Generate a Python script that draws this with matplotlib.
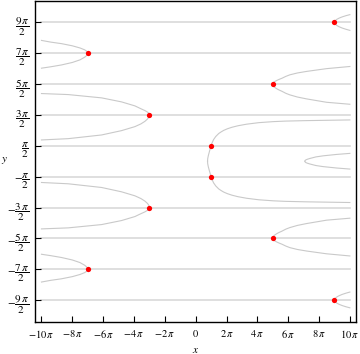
import numpy as np
import matplotlib
matplotlib.use("Agg")
import matplotlib.pyplot as plt

plt.rcParams['mathtext.fontset'] = 'stix'
plt.rcParams['font.family'] = 'STIXGeneral'

# all values in units of pi
line_levels = [-4.5, -3.5, -2.5, -1.5, -0.5, 0.5, 1.5, 2.5, 3.5, 4.5]

# red points (upper half, mirrored below)
pts_x = [-7, -3, 1, 5, 9]
pts_y = [3.5, 1.5, 0.5, 2.5, 4.5]

# branches of the upper half: (x list, y-upper list, y-lower list)
c1_x = [9.0, 9.02, 9.06, 9.15, 9.3, 9.5, 9.75, 10.0]
c1_up = [4.5, 4.535, 4.562, 4.597, 4.637, 4.677, 4.717, 4.75]
c1_lo = [4.5, 4.463, 4.436, 4.40, 4.358, 4.316, 4.275, 4.24]

c2_x = [-7.0, -7.02, -7.07, -7.2, -7.5, -8.0, -8.7, -9.4, -10.0]
c2_up = [3.5, 3.535, 3.565, 3.61, 3.67, 3.74, 3.81, 3.86, 3.915]
c2_lo = [3.5, 3.46, 3.425, 3.37, 3.285, 3.20, 3.12, 3.06, 3.015]

c3_x = [5.0, 5.01, 5.05, 5.12, 5.25, 5.4, 5.6, 5.85, 6.11, 6.6, 7.19, 8.49, 10.0]
c3_up = [2.5, 2.525, 2.552, 2.58, 2.615, 2.65, 2.69, 2.75, 2.80, 2.86, 2.91, 3.0, 3.07]
c3_lo = [2.5, 2.47, 2.433, 2.395, 2.35, 2.31, 2.265, 2.20, 2.15, 2.08, 2.02, 1.91, 1.846]

c4_x = [-3.0, -3.01, -3.05, -3.12, -3.29, -3.55, -3.94, -4.81, -6.1, -8.27, -10.0]
c4_up = [1.5, 1.527, 1.56, 1.59, 1.641, 1.70, 1.793, 1.923, 2.053, 2.16, 2.193]
c4_lo = [1.5, 1.464, 1.42, 1.37, 1.293, 1.21, 1.121, 0.991, 0.851, 0.731, 0.689]

# curve through (pi, pi/2) and (pi, -pi/2), top half from y=0 to right end
c5_x = [0.77, 0.78, 0.82, 0.9, 1.0, 1.07, 1.16, 1.3, 1.5, 1.65, 1.82, 2.05,
        2.35, 2.75, 3.3, 4.1, 5.03, 5.8, 7.19, 10.0]
c5_y = [0.0, 0.08, 0.18, 0.33, 0.5, 0.6, 0.7, 0.8, 0.9, 0.95, 1.0, 1.05,
        1.1, 1.15, 1.2, 1.25, 1.283, 1.3, 1.316, 1.338]

# small loop near y = 0
loop_x = [7.08, 7.1, 7.15, 7.25, 7.41, 7.8, 8.27, 9.14, 10.0]
loop_y = [0.0, 0.025, 0.045, 0.065, 0.09, 0.14, 0.175, 0.22, 0.254]

fig = plt.figure(figsize=(3.6, 3.54), dpi=100)
ax = fig.add_axes([0.0972, 0.0904, 0.8918, 0.9066])

line_col = '#d9d9d9'
curve_col = '#c9c9c9'

for lv in line_levels:
    ax.plot([-10, 10], [lv, lv], color=line_col, lw=1.2, zorder=1)

def branch(xs, ys):
    xs = np.asarray(xs)
    ys = np.asarray(ys)
    ax.plot(xs, ys, color=curve_col, lw=0.8, zorder=2)
    ax.plot(xs, -ys, color=curve_col, lw=0.8, zorder=2)

for cx, up, lo in [(c1_x, c1_up, c1_lo), (c2_x, c2_up, c2_lo),
                   (c3_x, c3_up, c3_lo), (c4_x, c4_up, c4_lo)]:
    branch(cx, up)
    branch(cx, lo)
branch(c5_x, c5_y)
branch(loop_x, loop_y)

px = np.array(pts_x + pts_x)
py = np.array(pts_y + [-v for v in pts_y])
ax.plot(px, py, 'o', color='#ff0000', ms=3.8, mec='none', zorder=3)

ax.set_xlim(-10.42, 10.4)
ax.set_ylim(-5.21, 5.19)

xt = list(range(-10, 11, 2))
xl = []
for v in xt:
    if v == 0:
        xl.append('$0$')
    elif v < 0:
        xl.append(r'$-%d\,\pi$' % (-v))
    else:
        xl.append(r'$%d\,\pi$' % v)
ax.set_xticks(xt)
ax.set_xticklabels(xl, fontsize=7.5)

yl = []
for lv in line_levels:
    n = int(round(abs(lv) * 2))
    num = r'\pi' if n == 1 else r'%d\,\pi' % n
    s = r'\dfrac{%s}{2}' % num
    yl.append('$-' + s + '$' if lv < 0 else '$' + s + '$')
ax.set_yticks(line_levels)
ax.set_yticklabels(yl, fontsize=8)

ax.tick_params(direction='in', length=4, width=0.8, pad=4)
for sp in ax.spines.values():
    sp.set_linewidth(1.0)

ax.set_xlabel('$x$', fontsize=8, labelpad=4)
fig.text(0.004, 0.548, '$y$', fontsize=8, ha='left', va='center')

fig.savefig('out.png', dpi=100)
